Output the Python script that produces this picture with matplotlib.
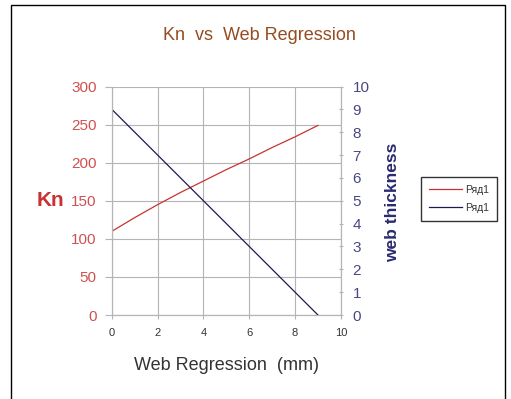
import matplotlib
matplotlib.use("Agg")
import matplotlib.pyplot as plt
from matplotlib.patches import Rectangle

plt.rcParams['font.family'] = ['Liberation Sans', 'DejaVu Sans']

web_regression = [0, 1, 2, 3, 4, 5, 6, 7, 8, 9]
kn_values = [110, 128, 145, 161, 176, 191, 205, 220, 234, 249]
web_thickness = [9, 8, 7, 6, 5, 4, 3, 2, 1, 0]
series_labels = ["Ряд1", "Ряд1"]
title = "Kn  vs  Web Regression"
xlabel = "Web Regression  (mm)"
ylabel_left = "Kn"
ylabel_right = "web thickness"

red = "#c83232"
navy = "#1c1c50"
grid_c = "#b4b4b4"

fig = plt.figure(figsize=(5.11, 3.99), dpi=100)
fig.patch.set_facecolor("white")
fig.patches.append(Rectangle((11/511, -0.05), (505-11)/511, 1 - 5/399 + 0.05,
                             transform=fig.transFigure, fill=False,
                             edgecolor="black", linewidth=1.0))

ax = fig.add_axes([0.219, 0.2105, 0.448, 0.5725])
ax2 = ax.twinx()

l1, = ax.plot(web_regression, kn_values, color=red, linewidth=0.9, label=series_labels[0])
l2, = ax2.plot(web_regression, web_thickness, color=navy, linewidth=0.9, label=series_labels[1])

ax.set_xlim(0, 10)
ax.set_ylim(0, 300)
ax2.set_ylim(0, 10)
ax.set_xticks(range(0, 11, 2))
ax.set_yticks(range(0, 301, 50))
ax2.set_yticks(range(0, 11, 1))

ax.grid(True, color=grid_c, linewidth=0.8)
ax.set_axisbelow(True)

for a in (ax, ax2):
    for s in a.spines.values():
        s.set_color(grid_c)
        s.set_linewidth(0.8)
ax.spines['top'].set_visible(False)
ax2.spines['top'].set_visible(False)

ax.tick_params(axis='y', colors=grid_c, labelcolor="#d05050", labelsize=11, length=5, width=0.8, pad=6)
ax.tick_params(axis='x', colors=grid_c, labelcolor="#333333", labelsize=8, length=3, width=0.8, pad=6)
ax2.tick_params(axis='y', colors=grid_c, labelcolor="#484884", labelsize=11, length=3, width=0.8,
                direction='inout', pad=7)

fig.text(259/511, 1 - 35/399, title, color="#944c20", fontsize=13, ha='center', va='center')
fig.text(226/511, 1 - 365/399, xlabel, color="#333333", fontsize=13, ha='center', va='center')
fig.text(50/511, 1 - 200/399, ylabel_left, color=red, fontsize=15, fontweight='bold',
         ha='center', va='center')
fig.text(393/511, 1 - 202/399, ylabel_right, color="#2a2a70", fontsize=12.5, fontweight='bold',
         rotation=90, ha='center', va='center')

leg = fig.legend(handles=[l1, l2], labels=series_labels, loc='upper left',
                 bbox_to_anchor=(421/511, 1-177/399), fontsize=7.5,
                 frameon=True, fancybox=False, handlelength=3.2, borderpad=0.75,
                 labelspacing=0.8, handletextpad=0.3, borderaxespad=0)
leg.get_frame().set_edgecolor("black")
leg.get_frame().set_linewidth(1.0)
for t in leg.get_texts():
    t.set_color("#333333")

fig.savefig("out.png", dpi=100)
